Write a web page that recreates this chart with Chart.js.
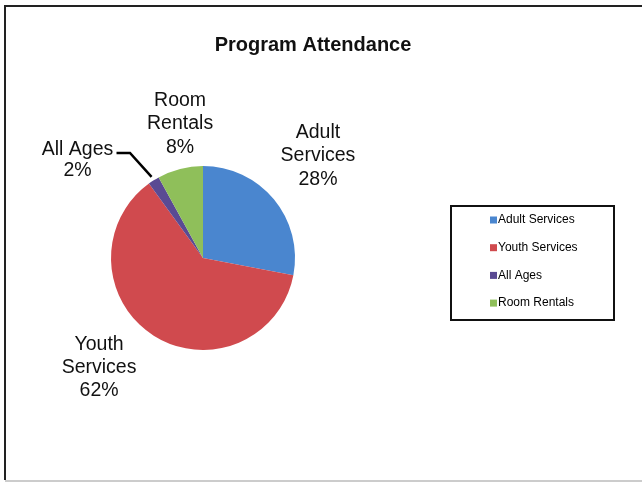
<!DOCTYPE html>
<html><head><meta charset="utf-8">
<script src="https://cdn.jsdelivr.net/npm/chart.js@4/dist/chart.umd.min.js"></script>
<style>html,body{margin:0;padding:0;background:#fff;}#wrap{width:642px;height:484px;position:relative;}</style>
</head><body><div id="wrap"><canvas id="c" width="642" height="484"></canvas></div>
<script>
const categories = ["Adult Services", "Youth Services", "All Ages", "Room Rentals"];
const values = [28, 62, 2, 8];
const colors = ["#4A86CF", "#D04A4E", "#5A4A93", "#8FBF5A"];
const labelLines = [["Adult", "Services", "28%"], ["Youth", "Services", "62%"], ["All Ages", "2%"], ["Room", "Rentals", "8%"]];
const chartTitle = "Program Attendance";

// label placement: [angle offset (deg), distance factor of radius, line height]
const labelPlace = [[-2, 1.671, 23.5], [11.1, 1.641, 23], [-19.6, 1.731, 21], [4.7, 1.478, 23.5]];

const deco = {
  id: 'deco',
  beforeDraw(chart) {
    const c = chart.ctx;
    c.save();
    c.fillStyle = '#fff'; c.fillRect(0, 0, chart.width, chart.height);
    c.strokeStyle = '#222'; c.lineWidth = 2;
    c.beginPath(); c.moveTo(5, 480); c.lineTo(5, 6); c.lineTo(642, 6); c.stroke();
    c.strokeStyle = '#bbb'; c.lineWidth = 1.5;
    c.beginPath(); c.moveTo(5, 481); c.lineTo(642, 481); c.stroke();
    c.restore();
  },
  afterDraw(chart) {
    const c = chart.ctx;
    c.save();
    c.fillStyle = '#111';
    c.textAlign = 'center'; c.textBaseline = 'middle';
    c.font = 'bold 20px "Liberation Sans", Arial, sans-serif';
    c.fillText(chartTitle, 313, 45);
    // data labels
    const meta = chart.getDatasetMeta(0);
    c.font = '19.5px "Liberation Sans", Arial, sans-serif';
    meta.data.forEach((arc, i) => {
      const p = arc.getProps(['x', 'y', 'startAngle', 'endAngle', 'outerRadius'], true);
      const mid = (p.startAngle + p.endAngle) / 2 + labelPlace[i][0] * Math.PI / 180;
      const d = p.outerRadius * labelPlace[i][1];
      const lx = p.x + Math.cos(mid) * d, ly = p.y + Math.sin(mid) * d;
      const lines = labelLines[i];
      const lh = labelPlace[i][2];
      c.fillStyle = '#111';
      lines.forEach((t, k) => c.fillText(t, lx, ly + (k - (lines.length - 1) / 2) * lh));
      if (i === 2) {
        const m0 = (p.startAngle + p.endAngle) / 2;
        const ex = p.x + Math.cos(m0) * (p.outerRadius + 4), ey = p.y + Math.sin(m0) * (p.outerRadius + 4);
        c.strokeStyle = '#000'; c.lineWidth = 2.5;
        c.beginPath();
        c.moveTo(lx + 39, ly - 7);
        c.lineTo(lx + 52.5, ly - 7);
        c.lineTo(ex, ey);
        c.stroke();
      }
    });
    // legend
    c.strokeStyle = '#111'; c.lineWidth = 2;
    c.strokeRect(451, 206, 163, 114);
    c.font = '12px "Liberation Sans", Arial, sans-serif';
    c.textAlign = 'left';
    categories.forEach((cat, i) => {
      const y = 220 + i * 27.7;
      c.fillStyle = colors[i];
      c.fillRect(490, y - 3.5, 7, 7);
      c.fillStyle = '#000';
      c.fillText(cat, 498, y);
    });
    c.restore();
  }
};

new Chart(document.getElementById('c'), {
  type: 'pie',
  data: { labels: categories, datasets: [{ data: values, backgroundColor: colors, borderWidth: 0 }] },
  options: {
    responsive: false, animation: false,
    layout: { padding: { left: 111, right: 347, top: 166, bottom: 134 } },
    plugins: { legend: { display: false }, tooltip: { enabled: false } }
  },
  plugins: [deco]
});
</script></body></html>
